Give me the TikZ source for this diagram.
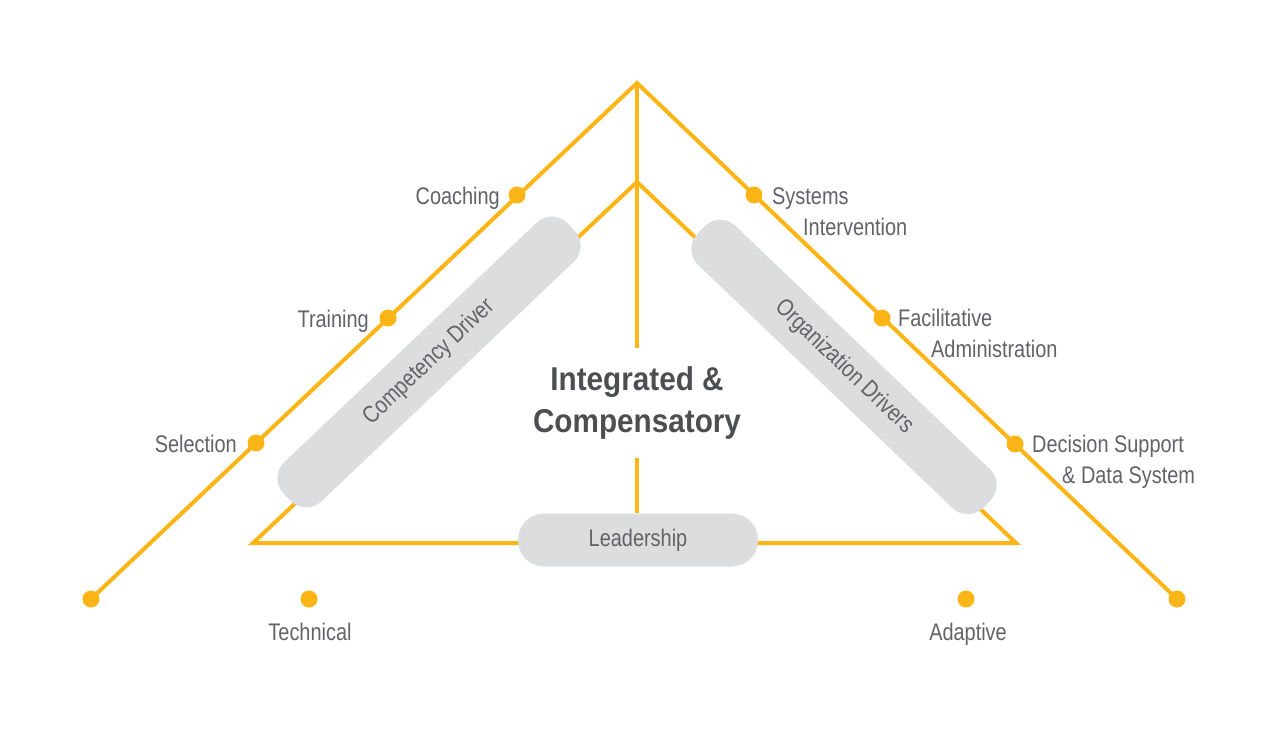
\documentclass[tikz,border=0pt]{standalone}
\usepackage{fontspec}
\setmainfont{Liberation Sans}[FakeStretch=0.83]
\newfontfamily\titlefont{Liberation Sans}[FakeStretch=0.9]
\definecolor{gold}{RGB}{252,181,22}
\definecolor{pill}{RGB}{220,221,223}
\definecolor{txt}{RGB}{98,99,102}
\definecolor{dtxt}{RGB}{77,78,81}
\begin{document}
\begin{tikzpicture}[x=1pt,y=-1pt,
  goldline/.style={draw=gold,line width=4pt,line join=miter},
  dot/.style={circle,fill=gold,minimum size=17pt,inner sep=0pt},
  lbl/.style={text=txt,font=\fontsize{24}{28}\selectfont,inner sep=0pt},
  pillbox/.style={fill=pill,rounded corners=22pt,minimum height=54pt,inner sep=0pt,text=txt,font=\fontsize{24}{28}\selectfont},
  title/.style={text=dtxt,font=\titlefont\bfseries\fontsize{33}{38}\selectfont,inner sep=0pt}]
\useasboundingbox[fill=white] (0,0) rectangle (1279,733);
% key points
\coordinate (apex) at (637,83);
\coordinate (lend) at (91,599);
\coordinate (rend) at (1177,599);
\coordinate (iapex) at (637,182);
\coordinate (ibl) at (253,543);
\coordinate (ibr) at (1016,543);
\coordinate (vmid) at (637,348);
\coordinate (vlow) at (637,458);
% lines
\draw[goldline] (lend) -- (apex) -- (rend);
\draw[goldline] (iapex) -- (ibl) -- (ibr) -- cycle;
\draw[goldline] (apex) -- (vmid);
% pills
\node[pillbox,minimum width=392pt,rotate=43.5] (comp) at (429,362) {Competency Driver};
\node[pillbox,minimum width=396pt,rotate=-43.7] (org) at (844,367) {Organization Drivers};
\node[pillbox,minimum width=240pt,minimum height=53pt,rounded corners=26pt] (lead) at (638,540) {Leadership};
\draw[goldline] (vlow) -- (vlow |- lead.north);
% dots
\node[dot] (coach) at (517,195) {};
\node[dot] (train) at (388,318) {};
\node[dot] (sel) at (256,443) {};
\node[dot] (ldot) at (lend) {};
\node[dot] (sys) at (754,195) {};
\node[dot] (fac) at (882,318) {};
\node[dot] (dec) at (1015,444) {};
\node[dot] (rdot) at (rend) {};
\node[dot] (tech) at (309,599) {};
\node[dot] (adap) at (966,599) {};
% labels
\node[lbl,anchor=base east] (tcoach) at (500,204) {Coaching};
\node[lbl,anchor=base east] (ttrain) at (369,327) {Training};
\node[lbl,anchor=base east] (tsel) at (237,452) {Selection};
\node[lbl,anchor=base west] (tsys) at (772,204) {Systems};
\node[lbl,anchor=base west] (tsys2) at (803,235) {Intervention};
\node[lbl,anchor=base west] (tfac) at (898,326) {Facilitative};
\node[lbl,anchor=base west] (tfac2) at (931,357) {Administration};
\node[lbl,anchor=base west] (tdec) at (1032,452) {Decision Support};
\node[lbl,anchor=base west] (tdec2) at (1062,483) {\& Data System};
\node[lbl,anchor=base] (ttech) at (310,640) {Technical};
\node[lbl,anchor=base] (tadap) at (968,640) {Adaptive};
\node[title,anchor=base] (t1) at (637,390) {Integrated \&};
\node[title,anchor=base] (t2) at (637,432) {Compensatory};
\end{tikzpicture}
\end{document}
